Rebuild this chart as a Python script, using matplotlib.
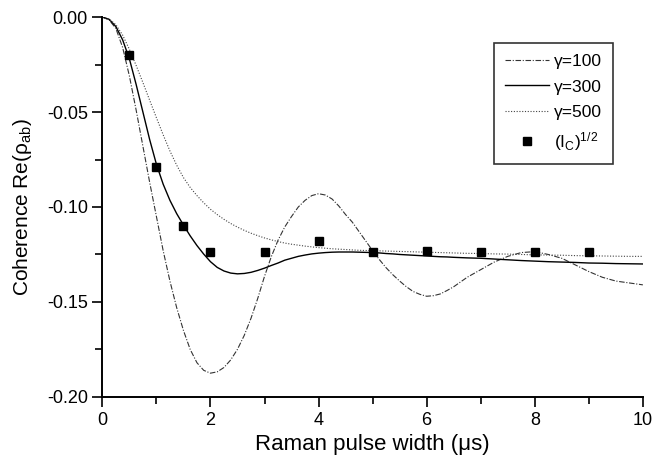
import matplotlib
matplotlib.use("Agg")
import matplotlib.pyplot as plt

# pulse width grid (us): 0.125 steps up to 6.5, then 0.25 steps
t = [i * 0.125 for i in range(53)] + [6.75 + i * 0.25 for i in range(14)]

# curves
g100 = [0, -0.0015, -0.006, -0.016, -0.031, -0.049, -0.068, -0.087, -0.105,
        -0.123, -0.139, -0.153, -0.165, -0.175, -0.182, -0.186, -0.1875,
        -0.1868, -0.1845, -0.1805, -0.1749, -0.1676, -0.1586, -0.1481, -0.1365,
        -0.1262, -0.1175, -0.1105, -0.105, -0.100, -0.0965, -0.094, -0.093,
        -0.0937, -0.0958, -0.0995, -0.104, -0.108, -0.113, -0.118, -0.123,
        -0.1277, -0.132, -0.1357, -0.139, -0.142, -0.1445, -0.146, -0.147,
        -0.1467, -0.1458, -0.144, -0.142,
        -0.137, -0.133, -0.129, -0.126, -0.124, -0.1235, -0.125, -0.127,
        -0.1305, -0.134, -0.137, -0.139, -0.140, -0.141]

g300 = [0, -0.0012, -0.005, -0.012, -0.022, -0.0355, -0.050, -0.0645, -0.0775,
        -0.088, -0.0965, -0.1035, -0.1095, -0.1152, -0.1203, -0.1248, -0.1288,
        -0.1318, -0.1337, -0.1348, -0.1352, -0.135, -0.1344, -0.1334, -0.1322,
        -0.1308, -0.1295, -0.128, -0.127, -0.126, -0.1253, -0.1247, -0.1243,
        -0.124, -0.1238, -0.1237, -0.1237, -0.1237, -0.1238, -0.1239, -0.124,
        -0.1242, -0.1245, -0.1247, -0.125, -0.1252, -0.1254, -0.1256, -0.1258,
        -0.126, -0.1262, -0.1263, -0.1265,
        -0.1268, -0.127, -0.1274, -0.1278, -0.1282, -0.1285, -0.1288, -0.129,
        -0.1292, -0.1295, -0.1296, -0.1298, -0.1299, -0.130]

g500 = [0, -0.001, -0.004, -0.0095, -0.017, -0.0255, -0.0345, -0.0438, -0.053,
        -0.062, -0.0705, -0.078, -0.0845, -0.0897, -0.094, -0.0978, -0.1012,
        -0.104, -0.1065, -0.1087, -0.1106, -0.1123, -0.1138, -0.1151, -0.1163,
        -0.1173, -0.1182, -0.119, -0.1196, -0.1201, -0.1206, -0.121, -0.1214,
        -0.1217, -0.122, -0.1222, -0.1224, -0.1226, -0.1228, -0.1229, -0.123,
        -0.1231, -0.1232, -0.1233, -0.1234, -0.1235, -0.1236, -0.1237, -0.1238,
        -0.1239, -0.124, -0.1241, -0.1242,
        -0.1244, -0.1245, -0.1247, -0.1248, -0.125, -0.1252, -0.1253, -0.1254,
        -0.1256, -0.1257, -0.1258, -0.1259, -0.126, -0.126]

# measured (I_c)^1/2 points
t_meas = [0.5, 1, 1.5, 2, 3, 4, 5, 6, 7, 8, 9]
ic_meas = [-0.020, -0.079, -0.110, -0.1237, -0.1237, -0.118, -0.1235, -0.123,
           -0.1237, -0.1237, -0.1237]

plt.rcParams['font.family'] = ['Liberation Sans', 'DejaVu Sans']
plt.rcParams['mathtext.fontset'] = 'custom'
plt.rcParams['mathtext.rm'] = 'Liberation Sans'
plt.rcParams['mathtext.it'] = 'Liberation Sans'

fig = plt.figure(figsize=(6.52, 4.61), dpi=100)
ax = fig.add_axes([0.157, 0.139, 0.829, 0.824])

ax.plot(t, g100, color='#333333', lw=0.8, ls=(0, (5, 1.5, 1, 1.5)), label='\u03b3=100')
ax.plot(t, g300, color='black', lw=1.0, ls='-', label='\u03b3=300')
ax.plot(t, g500, color='#444444', lw=0.8, ls=(0, (1, 1.5)), label='\u03b3=500')
ax.plot(t_meas, ic_meas, ls='none', marker='s', ms=5.5, color='black',
        label=r'$(\mathrm{I_C})^{1/2}$')

ax.set_xlim(0, 10)
ax.set_ylim(-0.20, 0.0)
ax.set_xticks([0, 2, 4, 6, 8, 10])
ax.set_xticks([1, 3, 5, 7, 9], minor=True)
ax.set_yticks([0.0, -0.05, -0.10, -0.15, -0.20])
ax.set_yticks([-0.025, -0.075, -0.125, -0.175], minor=True)
ax.set_yticklabels(['0.00', '-0.05', '-0.10', '-0.15', '-0.20'])

for side in ['top', 'right']:
    ax.spines[side].set_visible(False)
for side in ['left', 'bottom']:
    ax.spines[side].set_linewidth(1.4)
ax.tick_params(which='major', direction='out', length=7, width=1.2, labelsize=13)
ax.tick_params(which='minor', direction='out', length=5, width=1.2)

ax.set_xlabel('Raman pulse width (\u03bcs)', fontsize=16, labelpad=4)
ax.set_ylabel(r'Coherence Re($\rho_{\mathrm{ab}}$)', fontsize=15, labelpad=9)

leg = ax.legend(loc='upper right', bbox_to_anchor=(0.945, 0.932), borderaxespad=0,
                fontsize=12.5, frameon=True, fancybox=False, edgecolor='black',
                handlelength=2.5, handletextpad=0.3, borderpad=0.65,
                labelspacing=0.58)
leg.get_frame().set_linewidth(1.2)

fig.savefig('out.png', dpi=100)
